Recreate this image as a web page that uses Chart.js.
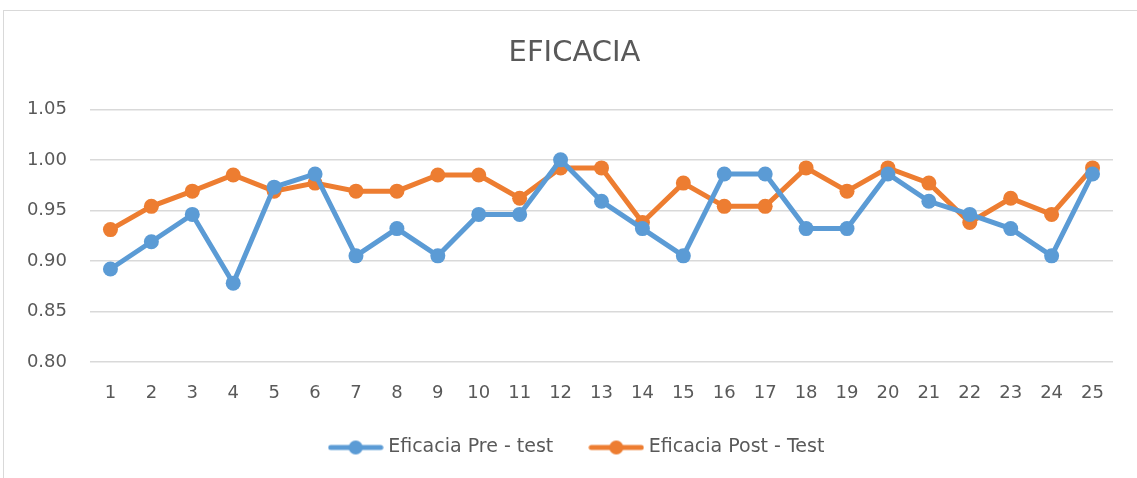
<!DOCTYPE html>
<html>
<head>
<meta charset="utf-8">
<script src="https://cdn.jsdelivr.net/npm/chart.js@4/dist/chart.umd.min.js"></script>
<style>
  html, body { margin: 0; padding: 0; background: #fff; overflow: hidden; }
  #frame { position: absolute; left: 3px; top: 10px; width: 1300px; height: 700px; border: 1px solid #d9d9d9; }
  #effChart { position: absolute; left: 0; top: 0; }
</style>
</head>
<body>
<div id="frame"></div>
<canvas id="effChart" width="1137" height="478"></canvas>
<script>
var categories = ["1","2","3","4","5","6","7","8","9","10","11","12","13","14","15","16","17","18","19","20","21","22","23","24","25"];
var preTest = [0.892, 0.919, 0.946, 0.878, 0.973, 0.986, 0.905, 0.932, 0.905, 0.946, 0.946, 1.000, 0.959,
               0.932, 0.905, 0.986, 0.986, 0.932, 0.932, 0.986, 0.959, 0.946, 0.932, 0.905, 0.986];
var postTest = [0.931, 0.954, 0.969, 0.985, 0.969, 0.977, 0.969, 0.969, 0.985, 0.985, 0.962, 0.992, 0.992,
                0.938, 0.977, 0.954, 0.954, 0.992, 0.969, 0.992, 0.977, 0.938, 0.962, 0.946, 0.992];
var yTicks = [0.80, 0.85, 0.90, 0.95, 1.00, 1.05];

var blue = '#5B9BD5';
var orange = '#ED7D31';
var textColor = '#595959';
var fontFam = '"DejaVu Sans", sans-serif';

// legend marker: line with a dot in the middle
function legendMark(color) {
  var c = document.createElement('canvas');
  c.width = 56; c.height = 16;
  var g = c.getContext('2d');
  g.strokeStyle = color;
  g.lineWidth = 5;
  g.lineCap = 'round';
  g.beginPath(); g.moveTo(3, 8); g.lineTo(53, 8); g.stroke();
  g.fillStyle = color;
  g.beginPath(); g.arc(28, 8, 7, 0, Math.PI * 2); g.fill();
  return c;
}

// excel centres title/legend on the whole chart, not the plot
var centreShift = {
  id: 'centreShift',
  afterLayout: function (chart) {
    if (chart.titleBlock) chart.titleBlock.left += 36;
    if (chart.legend) {
      chart.legend.left += 44;
      chart.legend.top -= 7;
      chart.legend.bottom -= 7;
    }
  }
};

var ctx = document.getElementById('effChart');
var effChart = new Chart(ctx, {
  type: 'line',
  data: {
    labels: categories,
    datasets: [{
      label: 'Eficacia Pre - test',
      data: preTest,
      borderColor: blue,
      backgroundColor: blue,
      borderWidth: 5,
      pointRadius: 7.5,
      pointBorderWidth: 0,
      pointBackgroundColor: blue,
      pointStyle: 'circle',
      tension: 0,
      fill: false
    }, {
      label: 'Eficacia Post - Test',
      data: postTest,
      borderColor: orange,
      backgroundColor: orange,
      borderWidth: 5,
      pointRadius: 7.5,
      pointBorderWidth: 0,
      pointBackgroundColor: orange,
      pointStyle: 'circle',
      tension: 0,
      fill: false
    }]
  },
  plugins: [centreShift],
  options: {
    responsive: false,
    animation: false,
    devicePixelRatio: 1,
    layout: { padding: { left: 0, right: 24, top: 0, bottom: 4 } },
    plugins: {
      title: {
        display: true,
        text: 'EFICACIA',
        color: textColor,
        font: { family: fontFam, size: 29, weight: 'normal' },
        padding: { top: 36.5, bottom: 38 }
      },
      legend: {
        position: 'bottom',
        labels: {
          color: textColor,
          font: { family: fontFam, size: 19 },
          usePointStyle: true,
          pointStyleWidth: 46,
          padding: 40,
          generateLabels: function (chart) {
            return chart.data.datasets.map(function (ds, i) {
              return {
                text: ds.label,
                fillStyle: ds.borderColor,
                strokeStyle: ds.borderColor,
                lineWidth: 0,
                pointStyle: legendMark(ds.borderColor),
                datasetIndex: i,
                hidden: false,
                fontColor: textColor
              };
            });
          }
        }
      },
      tooltip: { enabled: false }
    },
    scales: {
      x: {
        offset: true,
        grid: { display: false, drawTicks: false },
        border: { display: false },
        ticks: { color: textColor, font: { family: fontFam, size: 18 }, padding: 21, maxRotation: 0, autoSkip: false },
        afterFit: function (scale) { scale.height = 43; }
      },
      y: {
        min: 0.80,
        max: 1.05,
        afterBuildTicks: function (scale) {
          scale.ticks = yTicks.map(function (v) { return { value: v }; });
        },
        grid: { color: '#d9d9d9', lineWidth: 1.5, drawTicks: false },
        border: { display: false },
        ticks: {
          color: textColor,
          font: { family: fontFam, size: 18 },
          padding: 23,
          callback: function (v) { return Number(v).toFixed(2); }
        },
        afterFit: function (scale) { scale.width = 90; }
      }
    }
  }
});
</script>
</body>
</html>
